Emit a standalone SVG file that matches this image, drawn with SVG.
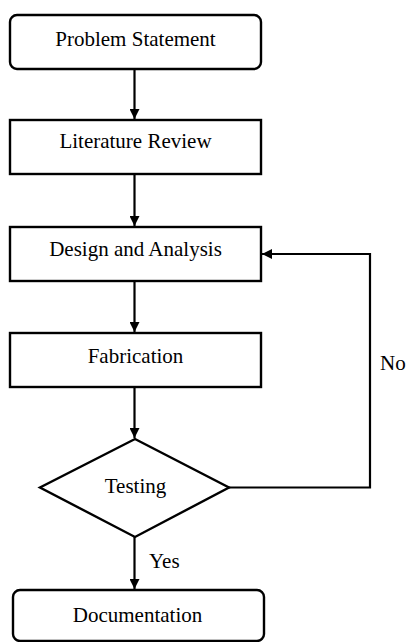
<svg xmlns="http://www.w3.org/2000/svg" width="406" height="642" viewBox="0 0 406 642">
<style>
.box{fill:#fff;stroke:#000;stroke-width:2.4}
text{font-family:'Liberation Serif','Times New Roman',Times,serif;font-size:21px;fill:#000}
.lbl{text-anchor:middle}
.conn{fill:none;stroke:#000;stroke-width:2.2}
</style>
<defs>
<marker id="ah" viewBox="0 0 10 10" refX="10" refY="5" markerWidth="10" markerHeight="10" markerUnits="userSpaceOnUse" orient="auto">
<path d="M0,0 L10,5 L0,10 Z" fill="#000"/>
</marker>
</defs>
<rect width="406" height="642" fill="#fff"/>
<g id="connectors">
<line class="conn" x1="134.5" y1="69" x2="134.5" y2="119" marker-end="url(#ah)"/>
<line class="conn" x1="134.5" y1="174" x2="134.5" y2="226" marker-end="url(#ah)"/>
<line class="conn" x1="134.5" y1="281" x2="134.5" y2="332" marker-end="url(#ah)"/>
<line class="conn" x1="134.5" y1="387" x2="134.5" y2="438" marker-end="url(#ah)"/>
<line class="conn" x1="134.5" y1="537" x2="134.5" y2="589" marker-end="url(#ah)"/>
<polyline class="conn" points="229,487.5 370,487.5 370,254 262,254" marker-end="url(#ah)"/>
<text x="149" y="568" font-family="Liberation Serif, serif">Yes</text>
<text x="380" y="370" font-family="Liberation Serif, serif">No</text>
</g>
<g id="problem">
<rect class="box" x="10" y="15" width="251" height="54" rx="7"/>
<text class="lbl" x="135.5" y="46" font-family="Liberation Serif, serif">Problem Statement</text>
</g>
<g id="literature">
<rect class="box" x="10" y="120" width="251" height="54"/>
<text class="lbl" x="135.5" y="148" font-family="Liberation Serif, serif">Literature Review</text>
</g>
<g id="design">
<rect class="box" x="10" y="227" width="251" height="54"/>
<text class="lbl" x="135.5" y="256" font-family="Liberation Serif, serif">Design and Analysis</text>
</g>
<g id="fabrication">
<rect class="box" x="10" y="333" width="251" height="54"/>
<text class="lbl" x="135.5" y="363" font-family="Liberation Serif, serif">Fabrication</text>
</g>
<g id="testing">
<polygon class="box" points="135,439 229,487.5 135,537 40,487.5"/>
<text class="lbl" x="135.5" y="493" font-family="Liberation Serif, serif">Testing</text>
</g>
<g id="documentation">
<rect class="box" x="13" y="590" width="251" height="51" rx="7"/>
<text class="lbl" x="137.5" y="622" font-family="Liberation Serif, serif">Documentation</text>
</g>
</svg>
